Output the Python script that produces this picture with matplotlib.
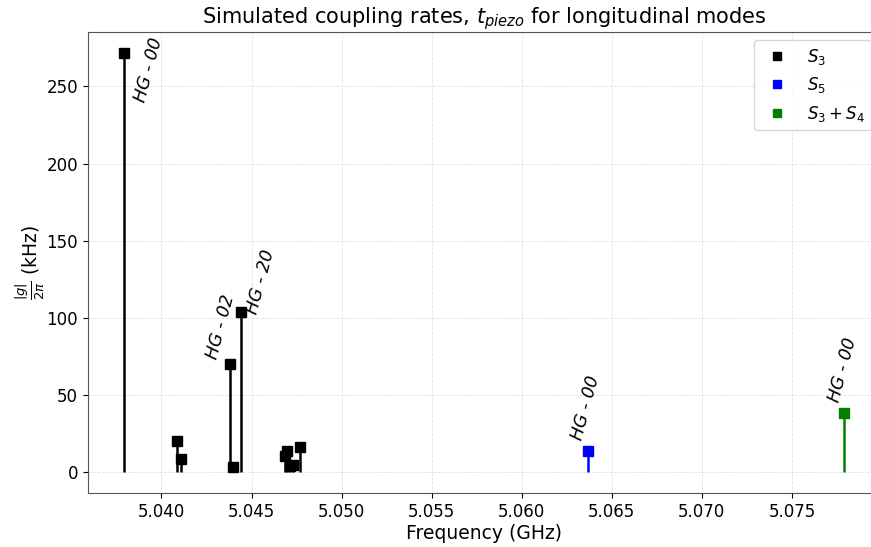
import matplotlib
matplotlib.use("Agg")
import matplotlib.pyplot as plt

# Data (GHz, kHz)
s3_freq = [5.03792, 5.04084, 5.04108, 5.04380, 5.04398, 5.04440,
           5.04688, 5.04699, 5.04713, 5.04730, 5.04771]
s3_g = [271.5, 20.0, 8.5, 70.0, 3.0, 103.5, 10.3, 13.6, 3.9, 4.5, 16.0]
s5_freq = [5.06369]
s5_g = [13.5]
s34_freq = [5.07789]
s34_g = [38.0]

labels = ["HG - 00", "HG - 02", "HG - 20", "HG - 00", "HG - 00"]
label_freq = [5.03792, 5.04380, 5.04440, 5.06369, 5.07789]
label_g = [271.5, 70.0, 103.5, 13.5, 38.0]
label_offsets = [(17.5, -12), (-6.5, 27), (14.5, 22), (-1.5, 31), (-0.7, 31)]

fig = plt.figure(figsize=(8.71, 5.47), dpi=100)
ax = fig.add_axes([0.101, 0.0987, 0.9093, 0.8428])

for f, g, c, lab in [(s3_freq, s3_g, "black", "$S_3$"),
                     (s5_freq, s5_g, "blue", "$S_5$"),
                     (s34_freq, s34_g, "green", "$S_3 + S_4$")]:
    ax.vlines(f, 0, g, colors=c, linewidth=1.8)
    ax.plot(f, g, "s", color=c, markersize=7, label=lab)

for t, f, g, off in zip(labels, label_freq, label_g, label_offsets):
    ax.annotate(t, (f, g), xytext=off, textcoords="offset points",
                rotation=75, ha="center", va="center", fontsize=12.5,
                style="italic")

ax.set_xlim(5.03592, 5.07989)
ax.set_ylim(-13.6, 285.3)
ax.set_xticks([5.040, 5.045, 5.050, 5.055, 5.060, 5.065, 5.070, 5.075])
ax.set_xticklabels(["5.040", "5.045", "5.050", "5.055", "5.060", "5.065", "5.070", "5.075"])
ax.tick_params(labelsize=12)
ax.grid(True, linestyle="--", linewidth=0.6, color="#e0e0e0")
ax.set_axisbelow(True)
for sp in ax.spines.values():
    sp.set_color("#555555")

ax.set_title("Simulated coupling rates, $t_{piezo}$ for longitudinal modes", fontsize=15)
ax.set_xlabel("Frequency (GHz)", fontsize=13.5, labelpad=2)
ax.set_ylabel(r"$\frac{|g|}{2\pi}$ (kHz)", fontsize=13.5, labelpad=0)

ax.legend(loc="upper right", fontsize=12, markerscale=0.85)

fig.savefig("out.png", dpi=100)
